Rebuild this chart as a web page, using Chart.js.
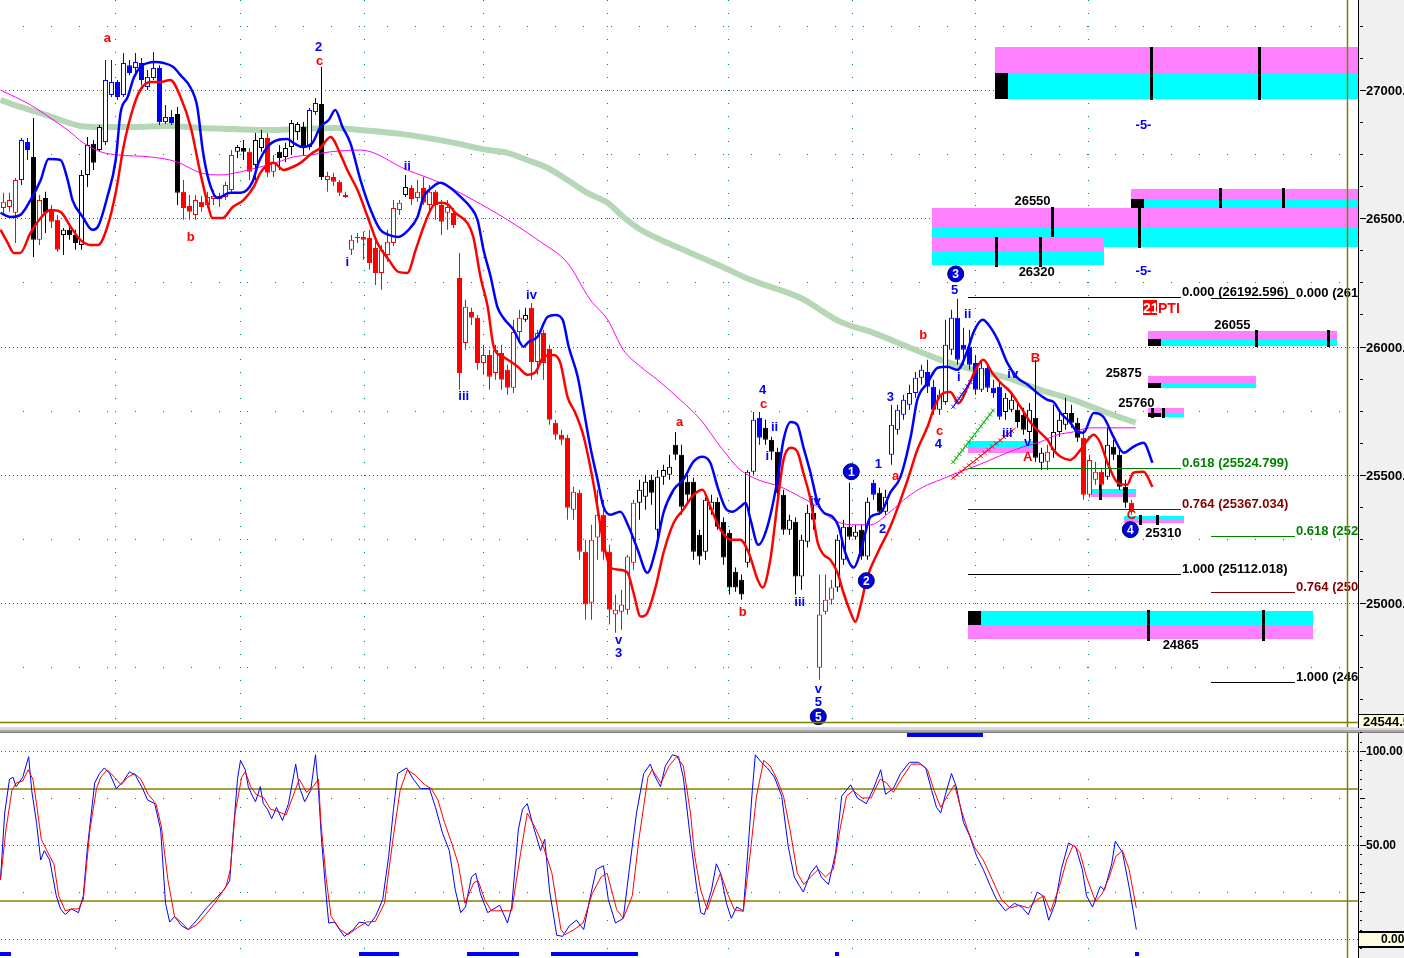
<!DOCTYPE html>
<html>
<head>
<meta charset="utf-8">
<title>Price chart with stochastic</title>
<script src="https://cdn.jsdelivr.net/npm/chart.js@4.4.1/dist/chart.umd.min.js"></script>
<style>
  html, body { margin:0; padding:0; background:#ffffff; }
  #wrap { position:relative; width:1404px; height:958px; overflow:hidden; background:#ffffff; }
  #priceCanvas { position:absolute; left:0; top:0; }
  #stochCanvas { position:absolute; left:0; top:728px; }
</style>
</head>
<body>
<div id="wrap">
  <canvas id="priceCanvas" width="1404" height="728"></canvas>
  <canvas id="stochCanvas" width="1404" height="230"></canvas>
</div>
<script>
// ---------------- DATA ----------------
const opens = [
26540,26544,26521,26649,26797,26739,26416,26579,26532,26494,
26435,26455,26435,26396,26669,26790,26766,26797,26981,27031,
26981,27097,27086,27105,27012,27047,27086,26875,26895,26906,
26603,26548,26513,26564,26552,26575,26575,26583,26610,26759,
26774,26759,26708,26774,26813,26681,26759,26739,26778,26836,
26856,26778,26914,26945,26649,26661,26642,26591,26377,26423,
26427,26423,26384,26287,26357,26404,26532,26591,26618,26579,
26618,26552,26603,26552,26521,26521,26267,26014,26135,26112,
25936,25967,25897,25975,25909,25839,26057,26104,26151,25940,
26053,25991,25703,25656,25644,25364,25430,25200,25001,25255,
25344,25200,24955,24966,24974,25157,25391,25414,25481,25286,
25492,25500,25617,25578,25473,25473,25266,25200,25364,25395,
25317,25274,25122,25091,25157,25512,25722,25683,25636,25590,
25422,25286,25317,25103,25239,25352,24748,24966,25013,25060,
25169,25297,25258,25286,25181,25469,25430,25356,25578,25675,
25734,25773,25819,25878,25901,25843,25753,25784,25987,26112,
26007,25999,25936,25831,25917,25839,25843,25745,25753,25753,
25734,25667,25722,25547,25551,25597,25667,25695,25741,25703,
25644,25422,25481,25512,25492,25609,25578,25453,25391];
const highs = [
26599,26599,26657,26813,26813,26891,26591,26603,26552,26513,
26462,26466,26455,26688,26817,26805,26864,27117,27117,27039,
27144,27117,27144,27125,27078,27148,27097,26942,26922,26934,
26649,26591,26591,26587,26603,26610,26599,26642,26766,26786,
26805,26774,26832,26844,26832,26747,26786,26794,26883,26875,
26875,26930,26969,27090,26681,26677,26649,26603,26435,26443,
26447,26455,26416,26396,26455,26571,26571,26669,26630,26649,
26661,26630,26610,26571,26571,26540,26365,26182,26151,26123,
26007,25987,26007,26007,25929,26104,26143,26151,26170,26065,
26065,26007,25714,25675,25656,25453,25442,25247,25305,25442,
25403,25227,25033,25052,25188,25403,25481,25500,25500,25519,
25539,25578,25667,25617,25500,25488,25286,25411,25422,25411,
25333,25286,25138,25111,25519,25745,25745,25714,25648,25605,
25442,25344,25333,25266,25383,25383,25111,25111,25091,25266,
25325,25469,25305,25305,25411,25481,25449,25442,25773,25773,
25812,25851,25901,25929,25948,25870,25831,26104,26143,26186,
26073,26065,25967,25948,25929,25870,25858,25819,25812,25784,
25761,25780,25948,25605,25617,25773,25753,25800,25773,25722,
25675,25578,25551,25527,25683,25636,25597,25481,25403];
const lows = [
26513,26525,26404,26630,26727,26349,26396,26443,26462,26369,
26357,26416,26377,26377,26622,26688,26759,26786,26973,26961,
26973,27058,27070,27019,27000,27039,26864,26867,26864,26552,
26494,26494,26494,26525,26540,26552,26544,26571,26599,26735,
26727,26649,26649,26759,26661,26661,26688,26719,26747,26805,
26747,26766,26903,26649,26603,26626,26587,26579,26357,26404,
26338,26299,26240,26221,26330,26392,26513,26583,26552,26564,
26552,26532,26494,26435,26455,26462,25831,25987,26084,25909,
25890,25831,25870,25831,25812,25819,26026,26096,25870,25890,
25870,25695,25636,25617,25325,25325,25169,24935,24935,25169,
25169,24916,24884,24896,24955,25130,25325,25364,25383,25227,
25461,25481,25558,25344,25383,25169,25149,25169,25344,25286,
25149,25033,25044,25013,25138,25500,25617,25617,25558,25403,
25266,25266,25033,25052,25216,25286,24701,24955,24994,25044,
25149,25247,25247,25169,25169,25403,25344,25344,25539,25656,
25714,25753,25800,25851,25819,25734,25734,25773,25967,25929,
25929,25909,25812,25823,25823,25800,25714,25714,25745,25683,
25656,25636,25551,25519,25519,25566,25648,25675,25683,25628,
25403,25411,25461,25442,25481,25558,25442,25371,25344];
const closes = [
26564,26571,26649,26805,26766,26416,26571,26521,26486,26377,
26455,26435,26404,26669,26786,26716,26856,27039,27031,26973,
27105,27066,27109,27039,27051,27086,26875,26895,26871,26599,
26540,26525,26571,26544,26583,26587,26587,26630,26747,26778,
26759,26681,26805,26813,26677,26716,26735,26774,26871,26867,
26778,26922,26949,26661,26665,26642,26599,26583,26416,26427,
26416,26326,26287,26377,26408,26540,26560,26622,26575,26603,
26560,26603,26552,26486,26544,26474,25897,26155,26112,25936,
25967,25882,25987,25870,25839,26057,26112,26123,25940,26053,
25936,25714,25656,25636,25371,25434,25200,24994,25247,25344,
25200,24974,24974,24994,25181,25391,25442,25473,25430,25492,
25519,25531,25578,25375,25422,25200,25181,25403,25395,25297,
25177,25060,25060,25033,25512,25714,25644,25636,25590,25430,
25286,25325,25103,25247,25352,25325,24955,25013,25060,25247,
25297,25258,25278,25181,25395,25422,25356,25414,25695,25753,
25792,25819,25878,25909,25843,25753,25812,26007,26112,25948,
25987,25929,25831,25917,25839,25819,25726,25800,25792,25706,
25675,25753,25566,25586,25590,25667,25714,25741,25703,25644,
25422,25558,25512,25461,25617,25578,25453,25391,25356];
// trend-colour state of each bar: r = red, b = blue, k = black
const trendState = ("rrrbbkrkrr" + "kkkkkkkbbb" + "bbbbbbbbbk" + "rrrrrrrrrk" + "krkkrrkkkk" +
  "kbbkrrrrrr" + "rrrrrrrkrr" + "rrrrrrrrrr" + "rrrrrrrkrr" + "rrrrrrrrrr" +
  "rrrrrrkkkk" + "kkkkkkkkkk" + "kkkkkbbkkk" + "kkkkkkrrrk" + "kkkkkbkkbb" +
  "bbbbbbbbbb" + "bbbbbbbkkk" + "kkkkrkkkkk" + "rrrrkkkkr").split('');

// indicator lines: [bar index, price]
const blueLine = [[-0.5,26521],[1.2,26505],[2.8,26513],[4.5,26571],[6.2,26649],[7.5,26731],[9.5,26727],[10.7,26649],[11.5,26571],[13.2,26505],[14.8,26455],[15.7,26466],[17.3,26583],[18.7,26727],[19.5,26910],[20.7,26973],[21.7,27047],[22.8,27090],[24,27105],[25.3,27109],[26.7,27105],[28.3,27090],[29.5,27058],[31.2,27008],[32.3,26934],[33.2,26766],[34.2,26649],[35.7,26579],[37.8,26599],[39.5,26599],[41.5,26642],[42.5,26716],[44,26778],[45.7,26805],[47.3,26809],[48.3,26794],[49.8,26778],[51.5,26794],[52.8,26856],[54.2,26883],[55.3,26922],[56.5,26856],[57.8,26794],[59.5,26649],[61.2,26532],[62.8,26455],[64.2,26435],[65.8,26427],[67.5,26455],[69,26505],[70,26583],[71.5,26622],[72.8,26638],[74.5,26618],[76.2,26583],[77.8,26544],[79,26494],[80,26377],[81.2,26271],[82.3,26155],[83.3,26112],[85,26065],[86.7,25999],[87.5,26018],[89,26038],[90.7,26116],[92,26123],[93.2,26104],[94.2,25999],[95.7,25882],[96.7,25753],[97.8,25609],[99,25481],[100,25375],[101.2,25344],[102.8,25356],[104.2,25297],[105.7,25208],[107.3,25118],[108.7,25208],[110,25352],[111.7,25442],[113.3,25481],[115,25551],[116.5,25570],[117.8,25547],[119,25453],[120.3,25371],[121.5,25356],[122.8,25375],[123.7,25391],[124.5,25325],[125.8,25227],[127.3,25297],[129,25481],[130,25636],[131.2,25706],[132.3,25695],[133.3,25609],[134.5,25508],[135.7,25391],[136.7,25352],[138.2,25336],[139.2,25297],[140.3,25196],[141.7,25138],[142.8,25196],[144.5,25336],[146.2,25352],[147.8,25430],[149.5,25492],[151.2,25648],[152.3,25792],[154,25858],[155.7,25917],[157.3,25921],[159,25909],[160.7,25987],[161.7,26057],[163.2,26104],[164.2,26084],[165.7,26026],[167.3,25936],[169,25878],[170.7,25851],[172.3,25819],[174,25792],[175,25784],[176.2,25741],[177.8,25703],[179,25667],[180,25664],[181.7,25741],[183.3,25726],[185,25648],[186.7,25586],[188.3,25609],[190,25625],[191.5,25547]];
const redLine = [[-0.5,26455],[0.7,26404],[1.7,26365],[2.8,26365],[4.5,26443],[6.2,26501],[7.8,26532],[9.5,26525],[11.2,26466],[12.8,26416],[14.5,26396],[15.8,26396],[17.3,26466],[18.7,26599],[20,26778],[21.5,26922],[22.8,27000],[24.5,27031],[26.2,27031],[27.8,27039],[29.5,26973],[31.2,26856],[32.8,26677],[34,26560],[34.8,26501],[36.5,26501],[38.2,26544],[40,26571],[41.7,26622],[42.8,26677],[44,26708],[45,26716],[46.7,26688],[47.8,26696],[49.5,26716],[51.5,26755],[52.8,26774],[54.5,26817],[56.2,26747],[57.3,26688],[59,26610],[60.7,26505],[62.3,26404],[64.2,26338],[65.8,26291],[67.3,26287],[68.7,26377],[70,26466],[71.7,26552],[72.8,26560],[74.2,26552],[75.3,26521],[77.3,26482],[78.3,26427],[79.5,26271],[80.7,26155],[81.7,25999],[83.3,25960],[85.7,25921],[87.3,25890],[88.7,25901],[90,25960],[91.7,25967],[92.8,25936],[94,25804],[95.3,25741],[96.7,25648],[98.3,25469],[100,25235],[101.2,25138],[102.5,25130],[104,25118],[105,25040],[106.2,24947],[107.3,24962],[108.7,25064],[110,25196],[111.7,25313],[113.3,25364],[115,25422],[116.5,25442],[117.8,25375],[119.5,25286],[121.2,25247],[122.8,25247],[124.2,25196],[125.7,25091],[126.5,25060],[127.8,25169],[129,25391],[130,25558],[131.2,25605],[132.3,25590],[133.3,25508],[134.5,25403],[135.7,25235],[136.7,25188],[137.8,25169],[139,25118],[140,25040],[141.2,24962],[142,24927],[142.8,24986],[144,25103],[145.7,25196],[147.8,25297],[150.7,25481],[152.3,25597],[154,25687],[155.3,25773],[156.7,25819],[157.8,25823],[159.2,25780],[160.7,25843],[162.3,25921],[163.3,25948],[164.8,25897],[166.2,25858],[167.8,25823],[169.5,25765],[171.2,25703],[172.8,25664],[174,25636],[175,25597],[176.2,25570],[177.8,25558],[179.5,25597],[180.7,25636],[181.7,25656],[182.8,25625],[184,25547],[185.7,25469],[187.3,25461],[188.3,25508],[190,25512],[191.5,25453]];
const magentaLine = [[-0.5,27000],[4.5,26942],[7.8,26891],[10.7,26844],[13.3,26794],[16.2,26759],[19,26747],[24.5,26739],[29,26719],[32.8,26677],[36.2,26669],[39.5,26681],[42.8,26700],[45.7,26719],[48.3,26739],[51.2,26747],[54.5,26759],[59.5,26766],[67.3,26688],[72.8,26638],[78.3,26571],[84,26494],[89.5,26408],[94,26326],[97.8,26182],[100.7,26104],[103.3,25987],[106.2,25921],[109,25870],[112.8,25792],[116.2,25714],[119.5,25609],[122.8,25519],[125.7,25481],[129.5,25453],[132.8,25414],[135.7,25375],[138.3,25325],[141.2,25305],[144.5,25305],[147.8,25356],[150.7,25414],[153.3,25453],[156.2,25481],[159,25508],[161.7,25531],[164.5,25558],[167.3,25586],[170,25609],[172.8,25628],[175.7,25656],[178.3,25667],[181.2,25683],[184,25683],[188.7,25683]];
const greenLine = [[-0.5,26961],[2.8,26934],[6.2,26910],[9.5,26883],[12.8,26860],[16.2,26856],[21.7,26856],[27.3,26860],[32.8,26852],[38.3,26848],[44,26844],[49.5,26848],[55,26852],[59.5,26844],[66.2,26829],[74.5,26797],[80.7,26766],[84,26755],[87.3,26727],[90.7,26696],[94,26649],[97.3,26599],[100.7,26560],[103.3,26505],[106.2,26455],[109.5,26416],[114.5,26365],[119.5,26314],[124.5,26260],[132.8,26190],[139.5,26096],[145,26053],[150.7,25999],[156.2,25948],[161.7,25909],[167.3,25878],[172.8,25831],[178.3,25792],[184,25741],[188.7,25703]];

// stochastic: [bar index, value]
const stochK = [[-0.5,31.5],[0.2,67],[1,85],[1.6,86],[2.1,81],[3.2,86],[4.2,97],[4.7,79],[5.5,62],[6.2,42],[6.8,47],[7.7,42],[8.8,23],[9.5,16],[10.3,13],[11.3,16],[12.5,14],[13.3,23],[14,49],[15.2,83],[16,88],[16.8,91],[17.7,88],[18.8,80],[20,84],[21,89],[22,87],[23.2,80],[24,74],[25.2,72],[26.2,58],[27,19],[27.7,9],[28.5,12],[29.7,7],[30.8,5],[32.2,10],[33.7,16],[35.2,21],[36.7,26],[37.7,31],[38.2,53],[39,85],[39.5,95],[40.3,90],[40.8,81],[41.5,76],[42,73],[42.8,81],[43.3,72],[44,69],[44.7,64],[45.5,70],[46.5,63],[47.5,72],[48.7,93],[49.3,81],[50.2,73],[51.2,79],[52,98],[52.5,79],[53,53],[53.7,26],[54.2,8.5],[55.2,9],[56,5],[56.8,1.4],[58.3,5],[59.3,9],[60.2,8.5],[60.8,7],[62,12],[63.2,21],[64.2,44],[65,69],[65.7,88],[67.2,91],[68.3,85],[69.5,80],[71,80],[72,70],[73.2,56],[74.3,47],[75.3,26],[76.2,14],[77,17],[78,33],[78.7,35],[79.5,24],[80.7,14],[81.7,16],[82.7,18],[84,8.5],[84.7,17],[85.8,58],[86.5,69],[87.3,72],[88.3,60],[89.5,47],[90.2,53],[91,26],[92.2,2],[93.2,1.4],[94.3,7],[95.5,10],[96.7,5],[97.7,21],[98.8,37],[100,39],[100.8,21],[102,8.5],[103.3,11],[104.3,37],[105.5,67],[106.7,88],[107.8,93],[108.5,87],[109.5,81],[110.3,92],[111.5,98],[112.5,97],[113.3,86],[114.5,53],[115.5,28],[116.2,14],[116.8,13],[118,26],[118.8,40],[119.5,35],[120.5,19],[121.3,11],[122.2,17],[123.3,15],[124,44],[124.8,79],[125.3,98],[126.3,94],[127.3,91],[128.5,86],[129.7,76],[130.8,49],[131.8,33],[132.7,28],[133.3,25],[134.5,35],[135.5,39],[136.3,33],[137.5,29],[138.7,46],[139.7,76],[141.2,82],[142.3,75],[143.8,72],[145,80],[146.2,90],[147,77],[148.3,80],[149.5,88],[151,94],[152.5,94],[153.7,91],[154.7,79],[155.5,70],[156.2,67],[157,77],[158,88],[158.8,81],[160,62],[161,55],[162.2,44],[163.3,37],[164.5,28],[165.5,21],[167,15],[168.5,19],[169.7,17],[170.8,13],[172.3,25],[173.2,23],[174.2,10],[175.3,19],[176.3,37],[177.5,51],[178.7,49],[179.8,37],[180.5,23],[181.5,17],[182.8,28],[183.5,26],[184.7,40],[185.3,52],[186.5,46],[187.7,26],[188.8,5]];
const stochD = [[-0.5,31.5],[0.4,58],[1.4,79],[2.1,83],[3.2,84],[4.1,90],[4.9,85],[5.5,72],[6.3,53],[7.7,44],[8.4,40],[9.2,23],[10.3,15],[11.4,16],[12.5,16],[13.3,21],[14.4,58],[15.5,80],[16.2,86],[17.3,90],[18.5,86],[19.6,82],[20.7,86],[21.8,88],[22.9,85],[24.1,77],[25.4,72],[26.3,60],[27.4,31.5],[28.5,12],[29.6,9],[30.8,5],[32.2,7.6],[33.7,13],[35.2,19],[37.1,28],[37.8,37],[38.6,67],[39.7,86],[40.3,89],[41.2,81],[42.1,77],[43.4,75],[44.5,69],[45.6,68],[47.1,66],[48.6,79],[49.3,85],[50.5,78],[51.6,81],[52.5,85],[52.9,62],[53.8,31.5],[54.6,12],[56.1,5],[57.4,2.3],[59,6],[60.5,9],[62,9.4],[63.5,19],[65,55],[66.1,79],[67.3,90],[68.7,87],[70.2,82],[71.3,80],[72.4,74],[73.5,62],[74.7,51],[75.8,40],[76.9,19],[78.4,30],[79.1,31],[80.2,21],[81.3,15],[83.2,15],[84.7,15],[86.2,46],[87.3,67],[88.8,58],[89.9,50],[91.4,35],[92.9,5],[93.6,2.3],[95.1,5],[96.6,8.5],[98.1,24],[99.6,33],[100.6,35],[102.2,15.6],[103.3,11],[104.8,23],[105.9,53],[107.4,86],[108.1,90],[109.6,83],[110.9,92],[112.2,97],[113.3,92],[114.5,67],[115.2,44],[116.2,26],[117.3,15.6],[118.4,26],[119.5,35],[120.7,24],[121.8,15.6],[123.3,14.7],[124.4,44],[125.5,76],[126.7,95],[127.8,92],[128.9,85],[130,76],[131.1,58],[132.3,35],[133.4,29],[134.5,33],[135.8,37],[137,33],[138.3,37],[139.4,58],[140.5,76],[141.6,79],[143.1,75],[144.6,75],[146.1,85],[147.2,83],[148.3,78],[149.8,86],[151.3,93],[152.8,93],[154,90],[155.1,79],[156.2,70],[157.3,76],[158.5,82],[159.6,69],[160.7,58],[161.8,49],[163.3,42],[164.8,31.5],[166.3,21],[167.8,16.5],[169.3,18],[170.8,16.5],[172.3,21],[173.4,23],[174.5,14.7],[176,28],[177.2,42],[178.3,50],[179.4,46],[180.5,33],[182,20],[183.1,24],[184.3,33],[185.4,44],[186.5,47],[187.6,37],[188.8,16.5]];

// axes / grid levels
const priceTicks = [25000, 25500, 26000, 26500, 27000];
const priceMidLevels = [24750, 25250, 25750, 26250, 26750, 27250];
const stochTicks = [0, 50, 100];
const stochMidLevels = [25, 75];
const stochBands = [20, 80];
const sessionBreaks = [18.6, 39.4, 60.1, 79.9, 100.6, 120.8, 141.4, 161.9, 180.8];
const projectionEnd = 224;
const lastPrice = 24544.5;
const lastStoch = 0;

// projection zones: [barFrom, barTo, priceTop, priceMid, priceBottom, kind, hasAnchor]
const zoneBoxes = [
  [165.3,225.7,27168,27066,26965,'R',true],
  [188,225.7,26614,26575,26540,'R',true],
  [154.7,225.7,26540,26462,26388,'R',false],
  [154.7,183.5,26427,26369,26318,'R',false],
  [190.7,222.2,26061,26030,26003,'R',true],
  [190.7,208.8,25886,25858,25839,'R',true],
  [190.7,196.8,25761,25741,25726,'R',true],
  [160.7,172.3,25632,25609,25586,'S',false],
  [181.2,188.8,25446,25430,25414,'S',false],
  [186.7,196.7,25340,25329,25313,'S',false],
  [160.7,218.2,24970,24916,24861,'S',true]
];
const zoneMarkers = [[191.3,27168,26961],[209.3,27168,26961],[202.7,26618,26540],[213.3,26618,26540],[174.7,26544,26427],[189.3,26544,26384],[165.5,26427,26310],[172.7,26427,26310],[208.7,26065,25999],[220.7,26065,25999],[191.5,25761,25722],[193.3,25761,25722],[182.7,25465,25403],[189.5,25344,25305],[192.2,25344,25305],[190.7,24974,24853],[210,24974,24853]];
const zoneLabels = [[171.5,26564,'26550'],[172.2,26287,'26320'],[204.8,26081,'26055'],[186.7,25894,'25875'],[188.8,25780,'25760'],[193.3,25270,'25310'],[196.2,24834,'24865']];

// fibonacci projections
const fibRatios = [0, 0.618, 0.764, 1];
const fibRangeA = [160.7, 196.2];
const fibPricesA = [26192.596, 25524.799, 25367.034, 25112.018];
const fibRangeB = [201.3, 215.3];
const fibPricesB = [26190.000, 25262.000, 25043.000, 24691.000];

// wave labels: [bar, price, text, colour code]
const waveLabels = [[17.3,27203,'a','r'],[31.2,26427,'b','r'],[52.5,27167,'2','b'],[52.7,27113,'c','r'],[57.3,26326,'i','b'],[67.3,26704,'ii','b'],[76.7,25804,'iii','b'],[88,26201,'iv','b'],[112.7,25703,'a','r'],[102.5,24853,'v','b'],[102.5,24803,'3','b'],[123.2,24962,'b','r'],[126.5,25827,'4','b'],[126.7,25773,'c','r'],[127.3,25570,'i','b'],[128.5,25683,'ii','b'],[132.7,25001,'iii','b'],[135.3,25395,'iv','b'],[135.8,24662,'v','b'],[135.8,24612,'5','b'],[145.8,25539,'1','b'],[146.5,25286,'2','b'],[147.8,25800,'3','b'],[148.7,25492,'a','r'],[153.3,26042,'b','r'],[156,25668,'c','r'],[155.8,25617,'4','b'],[158.5,26217,'5','b'],[160.7,26127,'ii','b'],[159.2,25878,'i','b'],[168.2,25890,'iv','b'],[167.3,25660,'iii','b'],[170.7,25625,'v','b'],[170.7,25566,'A','r'],[172,25952,'B','r'],[188,25340,'C','r'],[190,26860,'-5-','b'],[190,26291,'-5-','b']];
const circledLabels = [[135.8,24557,'5'],[141.3,25512,'1'],[143.8,25087,'2'],[158.7,26283,'3'],[187.8,25286,'4']];
const crossTrails = [[158.3,25550,165,25753,'g'],[158.3,25488,168.7,25683,'r'],[158.3,25765,161.2,25863,'b']];
const ptiTag = [190, 26123, '21', 'PTI'];
const signalBottom = [[-0.6,1.3],[59.2,65.9],[77.3,85.9],[91.3,105.8],[138.6,139.3],[188.6,189.3]];
const signalTop = [[150.6,163.3]];

// ---------------- RENDER ----------------
const X_MIN = -0.5833, X_MAX = 225.75;
const FONT = '"Liberation Sans", Arial, Helvetica, sans-serif';
const COL = { r:'#ff0000', b:'#0000ff', k:'#000000', g:'#00b000' };
const MAGENTA = '#ff80ff', CYAN = '#00ffff', OLIVE = '#808000', TEAL = '#008080';
const FIBCOL = { '0': '#000000', '0.618': '#008000', '0.764': '#800000', '1': '#000000' };

const idx = closes.map((_, i) => i);
const candleColor = idx.map(i => COL[trendState[i]]);
const bodyFill = idx.map(i => closes[i] < opens[i] ? candleColor[i] : '#ffffff');
const toXY = arr => arr.map(([b, v]) => ({ x: b, y: v }));

const priceDecor = {
  id: 'priceDecor',
  beforeDatasetsDraw(chart) {
    const { ctx, chartArea: a, scales: { x, y } } = chart;
    ctx.save();
    ctx.fillStyle = TEAL;
    priceTicks.forEach(v => {
      const py = Math.round(y.getPixelForValue(v));
      for (let p = a.left + 1; p < a.right; p += 4) ctx.fillRect(p, py, 1, 1);
    });
    priceMidLevels.forEach(v => {
      const py = Math.round(y.getPixelForValue(v));
      for (let p = a.left + 23; p < a.right; p += 28) ctx.fillRect(p, py, 1, 1);
    });
    sessionBreaks.forEach(b => {
      const pxv = Math.round(x.getPixelForValue(b));
      for (let v = 24550; v <= 27350; v += 50) ctx.fillRect(pxv, Math.round(y.getPixelForValue(v)), 1, 1);
    });
    zoneBoxes.forEach(([b0, b1, pT, pM, pB, kind, anchor]) => {
      const x0 = Math.round(x.getPixelForValue(b0)), x1 = Math.round(x.getPixelForValue(b1));
      const yT = Math.round(y.getPixelForValue(pT)), yM = Math.round(y.getPixelForValue(pM)), yB = Math.round(y.getPixelForValue(pB));
      ctx.fillStyle = kind === 'R' ? MAGENTA : CYAN; ctx.fillRect(x0, yT, x1 - x0, yM - yT);
      ctx.fillStyle = kind === 'R' ? CYAN : MAGENTA; ctx.fillRect(x0, yM, x1 - x0, yB - yM);
      if (anchor) {
        ctx.fillStyle = '#000000';
        if (kind === 'R') ctx.fillRect(x0, yM, 13, yB - yM); else ctx.fillRect(x0, yT, 13, yM - yT);
      }
    });
    ctx.fillStyle = '#000000';
    zoneMarkers.forEach(([b, pT, pB]) => {
      const pxv = Math.round(x.getPixelForValue(b));
      const yT = Math.round(y.getPixelForValue(pT)), yB = Math.round(y.getPixelForValue(pB));
      ctx.fillRect(pxv - 1, yT, 3, yB - yT);
    });
    ctx.restore();
  },
  afterDatasetsDraw(chart) {
    const { ctx, scales: { x, y } } = chart;
    ctx.save();
    crossTrails.forEach(([b0, p0, b1, p1, c]) => {
      const x0 = x.getPixelForValue(b0), y0 = y.getPixelForValue(p0), x1 = x.getPixelForValue(b1), y1 = y.getPixelForValue(p1);
      ctx.strokeStyle = COL[c]; ctx.lineWidth = 1;
      ctx.beginPath(); ctx.moveTo(x0, y0); ctx.lineTo(x1, y1); ctx.stroke();
      const len = Math.hypot(x1 - x0, y1 - y0);
      for (let t = 0; t <= len; t += 5) {
        const cx = x0 + (x1 - x0) * t / len, cy = y0 + (y1 - y0) * t / len;
        ctx.beginPath(); ctx.moveTo(cx - 2, cy - 2); ctx.lineTo(cx + 2, cy + 2); ctx.moveTo(cx - 2, cy + 2); ctx.lineTo(cx + 2, cy - 2); ctx.stroke();
      }
    });
    ctx.font = 'bold 13px ' + FONT; ctx.textAlign = 'left'; ctx.textBaseline = 'alphabetic';
    [[fibRangeA, fibPricesA], [fibRangeB, fibPricesB]].forEach(([rng, prices]) => {
      const x0 = Math.round(x.getPixelForValue(rng[0])), x1 = Math.round(x.getPixelForValue(rng[1]));
      prices.forEach((p, k) => {
        const r = fibRatios[k];
        const py = Math.round(y.getPixelForValue(p)) + 0.5;
        const c = FIBCOL[String(r)];
        ctx.strokeStyle = c; ctx.fillStyle = c; ctx.lineWidth = 1;
        ctx.beginPath(); ctx.moveTo(x0, py); ctx.lineTo(x1, py); ctx.stroke();
        ctx.fillText(r.toFixed(3) + ' (' + p.toFixed(3) + ')', x1 + 1, py - 2);
      });
    });
    ctx.fillStyle = '#000000'; ctx.textAlign = 'center'; ctx.textBaseline = 'middle';
    zoneLabels.forEach(([b, p, t]) => ctx.fillText(t, x.getPixelForValue(b), y.getPixelForValue(p)));
    waveLabels.forEach(([b, p, t, c]) => {
      ctx.fillStyle = COL[c];
      ctx.fillText(t, x.getPixelForValue(b), y.getPixelForValue(p));
    });
    circledLabels.forEach(([b, p, t]) => {
      const cx = x.getPixelForValue(b), cy = y.getPixelForValue(p);
      ctx.beginPath(); ctx.arc(cx, cy, 8, 0, Math.PI * 2);
      ctx.fillStyle = '#0000e0'; ctx.fill();
      ctx.lineWidth = 1; ctx.strokeStyle = '#000060'; ctx.stroke();
      ctx.fillStyle = '#ffffff'; ctx.font = 'bold 12px ' + FONT;
      ctx.fillText(t, cx, cy + 1);
    });
    const tx = Math.round(x.getPixelForValue(ptiTag[0])), ty = Math.round(y.getPixelForValue(ptiTag[1]));
    ctx.fillStyle = '#ff0000'; ctx.fillRect(tx, ty - 15, 14, 15);
    ctx.font = 'bold 14px ' + FONT; ctx.textAlign = 'left'; ctx.textBaseline = 'alphabetic';
    ctx.fillStyle = '#ffffff'; ctx.fillText(ptiTag[2], tx, ty - 2);
    ctx.fillStyle = '#ff0000'; ctx.fillText(ptiTag[3], tx + 15, ty - 2);
    ctx.restore();
  },
  afterDraw(chart) {
    const { ctx, chartArea: a, scales: { x, y } } = chart;
    const W = chart.width, H = chart.height;
    ctx.save();
    ctx.strokeStyle = OLIVE; ctx.lineWidth = 1.5;
    const xe = Math.round(x.getPixelForValue(projectionEnd)) + 0.5;
    ctx.beginPath(); ctx.moveTo(xe, 0); ctx.lineTo(xe, H); ctx.stroke();
    ctx.beginPath(); ctx.moveTo(0, a.bottom - 1.5); ctx.lineTo(a.right, a.bottom - 1.5); ctx.stroke();
    ctx.fillStyle = '#dcdcdc'; ctx.fillRect(0, H - 1, W, 1);
    ctx.fillStyle = '#f0f0f0'; ctx.fillRect(a.right, 0, W - a.right, H);
    ctx.fillStyle = '#000000'; ctx.fillRect(a.right, 0, 1, H);
    for (let v = 24625; v <= 27350; v += 125) ctx.fillRect(a.right + 2, Math.round(y.getPixelForValue(v)), 3, 1);
    ctx.font = 'bold 13px ' + FONT; ctx.textAlign = 'left'; ctx.textBaseline = 'middle';
    priceTicks.forEach(v => {
      const py = Math.round(y.getPixelForValue(v));
      ctx.fillRect(a.right + 2, py, 6, 1);
      ctx.fillText(v.toFixed(2), a.right + 8, py + 1);
    });
    const ly = Math.round(y.getPixelForValue(lastPrice));
    ctx.fillStyle = '#ffffe0'; ctx.fillRect(a.right + 1, ly - 5, W - a.right, 13);
    ctx.fillStyle = '#000000'; ctx.fillRect(a.right, ly - 6, W - a.right, 1); ctx.fillRect(a.right, ly + 8, W - a.right, 1);
    ctx.fillText(lastPrice.toFixed(1), a.right + 5, ly + 2);
    ctx.restore();
  }
};

new Chart(document.getElementById('priceCanvas'), {
  type: 'bar',
  data: {
    datasets: [
      { type: 'line', label: 'Upper', data: toXY(blueLine), borderColor: '#0000ff', borderWidth: 2.5, pointRadius: 0, cubicInterpolationMode: 'monotone', order: 0 },
      { type: 'line', label: 'Lower', data: toXY(redLine), borderColor: '#ff0000', borderWidth: 2.5, pointRadius: 0, cubicInterpolationMode: 'monotone', order: 0 },
      { type: 'line', label: 'MA', data: toXY(magentaLine), borderColor: '#ff00ff', borderWidth: 1, pointRadius: 0, cubicInterpolationMode: 'monotone', order: 0 },
      { type: 'bar', label: 'Body', data: idx.map(i => ({ x: i, y: [opens[i], closes[i]] })), backgroundColor: bodyFill, borderColor: candleColor, borderWidth: 1, borderSkipped: false, barThickness: 5, grouped: false, inflateAmount: 0, order: 1 },
      { type: 'bar', label: 'Wick', data: idx.map(i => ({ x: i, y: [lows[i], highs[i]] })), backgroundColor: candleColor, borderWidth: 0, barThickness: 1, grouped: false, inflateAmount: 0, order: 2 },
      { type: 'line', label: 'Long MA', data: toXY(greenLine), borderColor: '#b5d7b5', borderWidth: 6, pointRadius: 0, cubicInterpolationMode: 'monotone', order: 3 }
    ]
  },
  options: {
    responsive: false, animation: false, events: [],
    layout: { padding: { left: 0, right: 46, top: 0, bottom: 4 } },
    plugins: { legend: { display: false }, tooltip: { enabled: false } },
    scales: {
      x: { type: 'linear', min: X_MIN, max: X_MAX, display: false, offset: false },
      y: { type: 'linear', min: 24528.3, max: 27350.9, display: false }
    }
  },
  plugins: [priceDecor]
});

const stochDecor = {
  id: 'stochDecor',
  beforeDatasetsDraw(chart) {
    const { ctx, chartArea: a, scales: { x, y } } = chart;
    ctx.save();
    ctx.fillStyle = TEAL;
    stochTicks.forEach(v => {
      const py = Math.round(y.getPixelForValue(v));
      for (let p = a.left + 1; p < a.right; p += 4) ctx.fillRect(p, py, 1, 1);
    });
    stochMidLevels.forEach(v => {
      const py = Math.round(y.getPixelForValue(v));
      for (let p = a.left + 23; p < a.right; p += 28) ctx.fillRect(p, py, 1, 1);
    });
    sessionBreaks.forEach(b => {
      const pxv = Math.round(x.getPixelForValue(b));
      for (let v = -5; v <= 110; v += 15) ctx.fillRect(pxv, Math.round(y.getPixelForValue(v)), 1, 1);
    });
    ctx.strokeStyle = OLIVE; ctx.lineWidth = 1.5;
    stochBands.forEach(v => {
      const py = Math.round(y.getPixelForValue(v));
      ctx.beginPath(); ctx.moveTo(a.left, py); ctx.lineTo(a.right, py); ctx.stroke();
    });
    ctx.restore();
  },
  afterDraw(chart) {
    const { ctx, chartArea: a, scales: { x, y } } = chart;
    const W = chart.width, H = chart.height;
    ctx.save();
    ctx.strokeStyle = OLIVE; ctx.lineWidth = 1.5;
    const xe = Math.round(x.getPixelForValue(projectionEnd)) + 0.5;
    ctx.beginPath(); ctx.moveTo(xe, 0); ctx.lineTo(xe, H); ctx.stroke();
    ctx.fillStyle = '#d8d8d8'; ctx.fillRect(0, 0, W, 2);
    ctx.fillStyle = '#a8a8a8'; ctx.fillRect(0, 2, W, 2);
    ctx.fillStyle = '#7c7c7c'; ctx.fillRect(0, 4, W, 1);
    ctx.fillStyle = '#0000ff';
    signalBottom.forEach(([b0, b1]) => {
      const x0 = Math.round(x.getPixelForValue(b0)), x1 = Math.round(x.getPixelForValue(b1));
      ctx.fillRect(x0, a.bottom - 6, Math.max(3, x1 - x0), 4);
    });
    signalTop.forEach(([b0, b1]) => {
      const x0 = Math.round(x.getPixelForValue(b0)), x1 = Math.round(x.getPixelForValue(b1));
      ctx.fillRect(x0, 5, x1 - x0, 4);
    });
    ctx.fillStyle = '#f0f0f0'; ctx.fillRect(a.right, 5, W - a.right, H - 5);
    ctx.fillStyle = '#000000'; ctx.fillRect(a.right, 5, 1, H - 5);
    for (let v = -5; v <= 110; v += 5) {
      const py = Math.round(y.getPixelForValue(v));
      ctx.fillRect(a.right + 2, py, v % 25 === 0 ? 5 : 2, 1);
    }
    ctx.font = 'bold 12px ' + FONT; ctx.textAlign = 'left'; ctx.textBaseline = 'middle';
    stochTicks.forEach(v => {
      const py = Math.round(y.getPixelForValue(v));
      ctx.fillRect(a.right + 2, py, 6, 1);
      if (v !== lastStoch) ctx.fillText(v.toFixed(2), a.right + 8, py + 1);
    });
    const ly = Math.round(y.getPixelForValue(lastStoch));
    ctx.fillStyle = '#ffffe0'; ctx.fillRect(a.right + 1, ly - 7, W - a.right, 15);
    ctx.fillStyle = '#000000'; ctx.fillRect(a.right, ly - 8, W - a.right, 2); ctx.fillRect(a.right, ly + 7, W - a.right, 2);
    ctx.fillText(lastStoch.toFixed(2), a.right + 23, ly + 1);
    ctx.restore();
  }
};

new Chart(document.getElementById('stochCanvas'), {
  type: 'line',
  data: {
    datasets: [
      { label: '%K', data: toXY(stochK), borderColor: '#0000ff', borderWidth: 1, pointRadius: 0, tension: 0, order: 1 },
      { label: '%D', data: toXY(stochD), borderColor: '#ff0000', borderWidth: 1, pointRadius: 0, tension: 0, order: 0 }
    ]
  },
  options: {
    responsive: false, animation: false, events: [],
    layout: { padding: { left: 0, right: 46, top: 0, bottom: 0 } },
    plugins: { legend: { display: false }, tooltip: { enabled: false } },
    scales: {
      x: { type: 'linear', min: X_MIN, max: X_MAX, display: false },
      y: { type: 'linear', min: -10.106, max: 112.23, display: false }
    }
  },
  plugins: [stochDecor]
});
</script>
</body>
</html>
